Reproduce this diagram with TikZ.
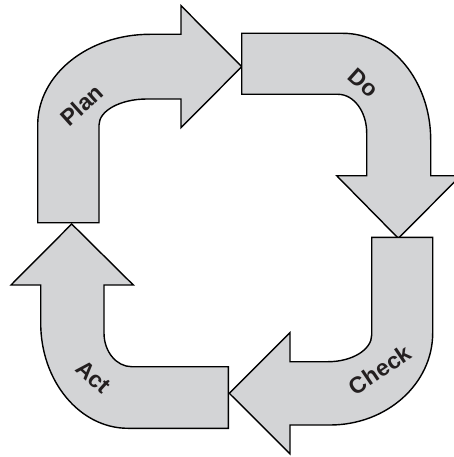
\documentclass[tikz,border=0pt]{standalone}
\usepackage{fontspec}
\setmainfont{Liberation Sans}
\definecolor{arrowfill}{HTML}{D3D4D6}
\definecolor{labeltext}{HTML}{231F20}
\tikzset{
  bigarrow/.style={draw=black, fill=arrowfill, line width=1.4pt, line join=miter},
  lbl/.style={font=\bfseries\fontsize{23}{23}\selectfont, text=labeltext, inner sep=0pt}
}
\begin{document}
\begin{tikzpicture}[x=1pt,y=-1pt]
\useasboundingbox (0,0) rectangle (453,457);
% Plan
\draw[bigarrow] (37.7,222.7) -- (37.7,125)
  .. controls (37.7,74.7) and (88,34.3) .. (150,34.3)
  -- (181,34.3) -- (181,5.7) -- (241.7,66.7) -- (181,127.7) -- (181,99) -- (147,99)
  .. controls (120.5,99) and (99,110.6) .. (99,125)
  -- (99,222.7) -- cycle;
% Do
\draw[bigarrow] (241.7,33.3) -- (343,33.3)
  .. controls (391.4,33.3) and (430.7,81.1) .. (430.7,140)
  -- (430.7,175.7) -- (460.7,175.7) -- (398.3,238.3) -- (336.7,175.7) -- (366.7,175.7) -- (366.7,133)
  .. controls (366.7,111.6) and (353.8,94.3) .. (338,94.3)
  -- (241.7,94.3) -- cycle;
% Check
\draw[bigarrow] (371.7,237.3) -- (432.7,237.3) -- (432.7,333)
  .. controls (432.7,383.8) and (386.7,425) .. (330,425)
  -- (290,425) -- (290,453.8) -- (229.3,393.3) -- (290,332.7) -- (290,361.7) -- (328,361.7)
  .. controls (352,361.7) and (371.7,349.7) .. (371.7,335)
  -- cycle;
% Act
\draw[bigarrow] (228.3,366.7) -- (228.3,428.3) -- (128,428.3)
  .. controls (79.8,428.3) and (40.7,381.2) .. (40.7,323)
  -- (40.7,285) -- (11,285) -- (71.7,224) -- (133.3,285) -- (104,285) -- (104,333)
  .. controls (104,351.6) and (116.4,366.7) .. (131.7,366.7)
  -- cycle;
% labels
\node[lbl, rotate=42] (plan) at (81.7,105) {Plan};
\node[lbl, rotate=-42] (do) at (363.3,83.3) {Do};
\node[lbl, rotate=34] (check) at (380,370) {Check};
\node[lbl, rotate=-42] (act) at (93.3,376.7) {Act};
\end{tikzpicture}
\end{document}
